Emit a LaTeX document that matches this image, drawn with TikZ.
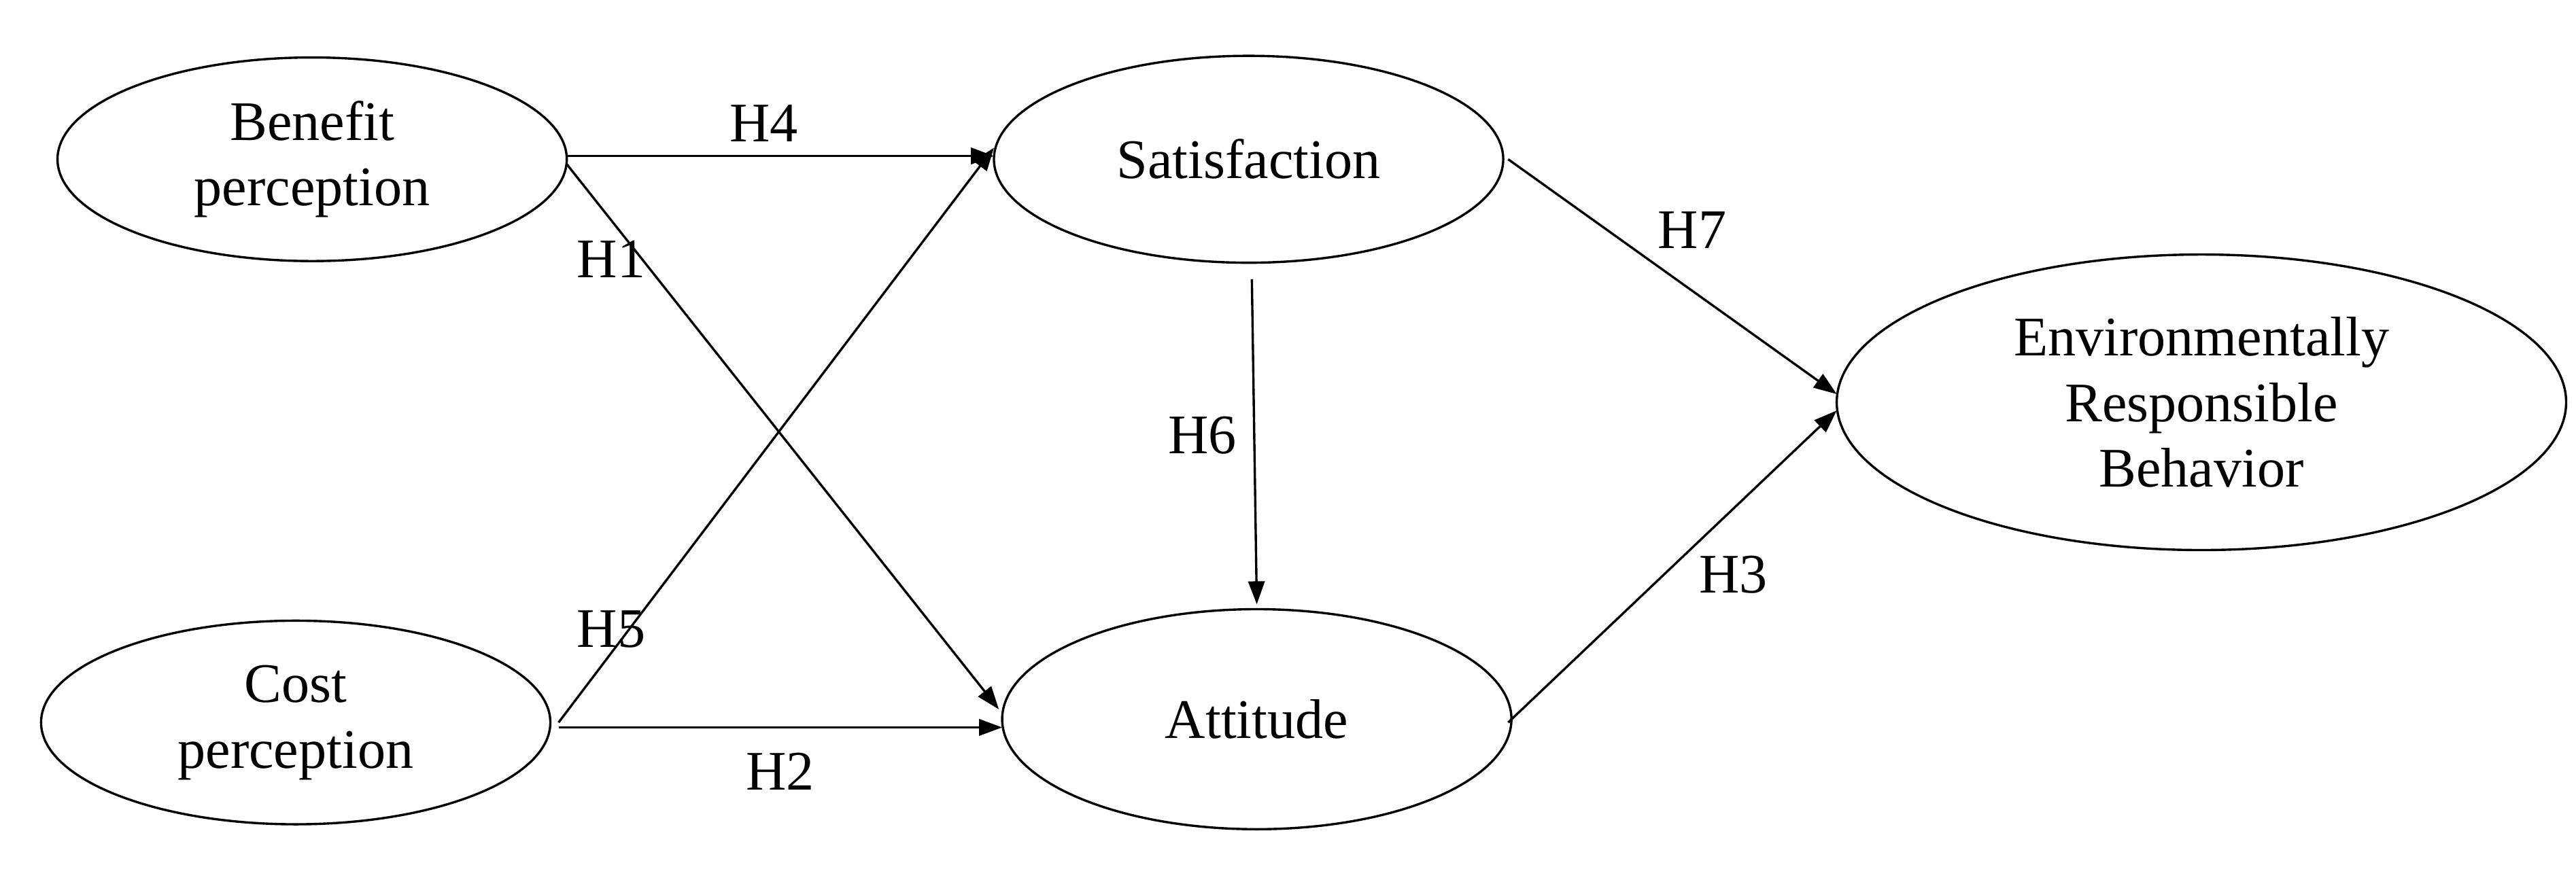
\documentclass[tikz,border=0pt]{standalone}
\usepackage{fontspec}
\setmainfont{Liberation Serif}
\usetikzlibrary{shapes.geometric,arrows.meta}
\begin{document}
\begin{tikzpicture}[x=1pt,y=-1pt,
  el/.style={draw,ellipse,line width=1.4pt,inner sep=0pt,align=center,font=\fontsize{34}{40}\selectfont},
  arr/.style={-{Triangle[length=14pt,width=10pt]},line width=1.4pt},
  lab/.style={font=\fontsize{34}{40}\selectfont}]
\useasboundingbox (0,0) rectangle (1568,537);
\node[el,minimum width=310pt,minimum height=124pt] (ben) at (190,97) {Benefit\\perception};
\node[el,minimum width=310pt,minimum height=124pt] (cost) at (180,440) {Cost\\perception};
\node[el,minimum width=310pt,minimum height=126pt] (sat) at (760,97) {Satisfaction};
\node[el,minimum width=310pt,minimum height=134pt] (att) at (765,438) {Attitude};
\node[el,minimum width=444pt,minimum height=180pt] (erb) at (1340,245) {Environmentally\\Responsible\\Behavior};
\coordinate (b1) at (345,95); \coordinate (b2) at (345,100);
\coordinate (c1) at (340,440); \coordinate (c2) at (340,443);
\coordinate (s1) at (605,95); \coordinate (s2) at (605,90);
\coordinate (a1) at (608,432); \coordinate (a2) at (610,443);
\coordinate (st) at (762,170); \coordinate (ab) at (765,368);
\coordinate (sr) at (918,97); \coordinate (ar) at (918,440);
\coordinate (e1) at (1118,240); \coordinate (e2) at (1118,250);
\draw[arr] (b1) -- (s1);
\draw[arr] (b2) -- (a1);
\draw[arr] (c1) -- (s2);
\draw[arr] (c2) -- (a2);
\draw[arr] (st) -- (ab);
\draw[arr] (sr) -- (e1);
\draw[arr] (ar) -- (e2);
\node[lab] (h4) at (465,75) {H4};
\node[lab] (h1) at (372,158) {H1};
\node[lab] (h5) at (372,383) {H5};
\node[lab] (h2) at (475,470) {H2};
\node[lab] (h6) at (732,265) {H6};
\node[lab] (h7) at (1030,140) {H7};
\node[lab] (h3) at (1055,350) {H3};
\end{tikzpicture}
\end{document}
